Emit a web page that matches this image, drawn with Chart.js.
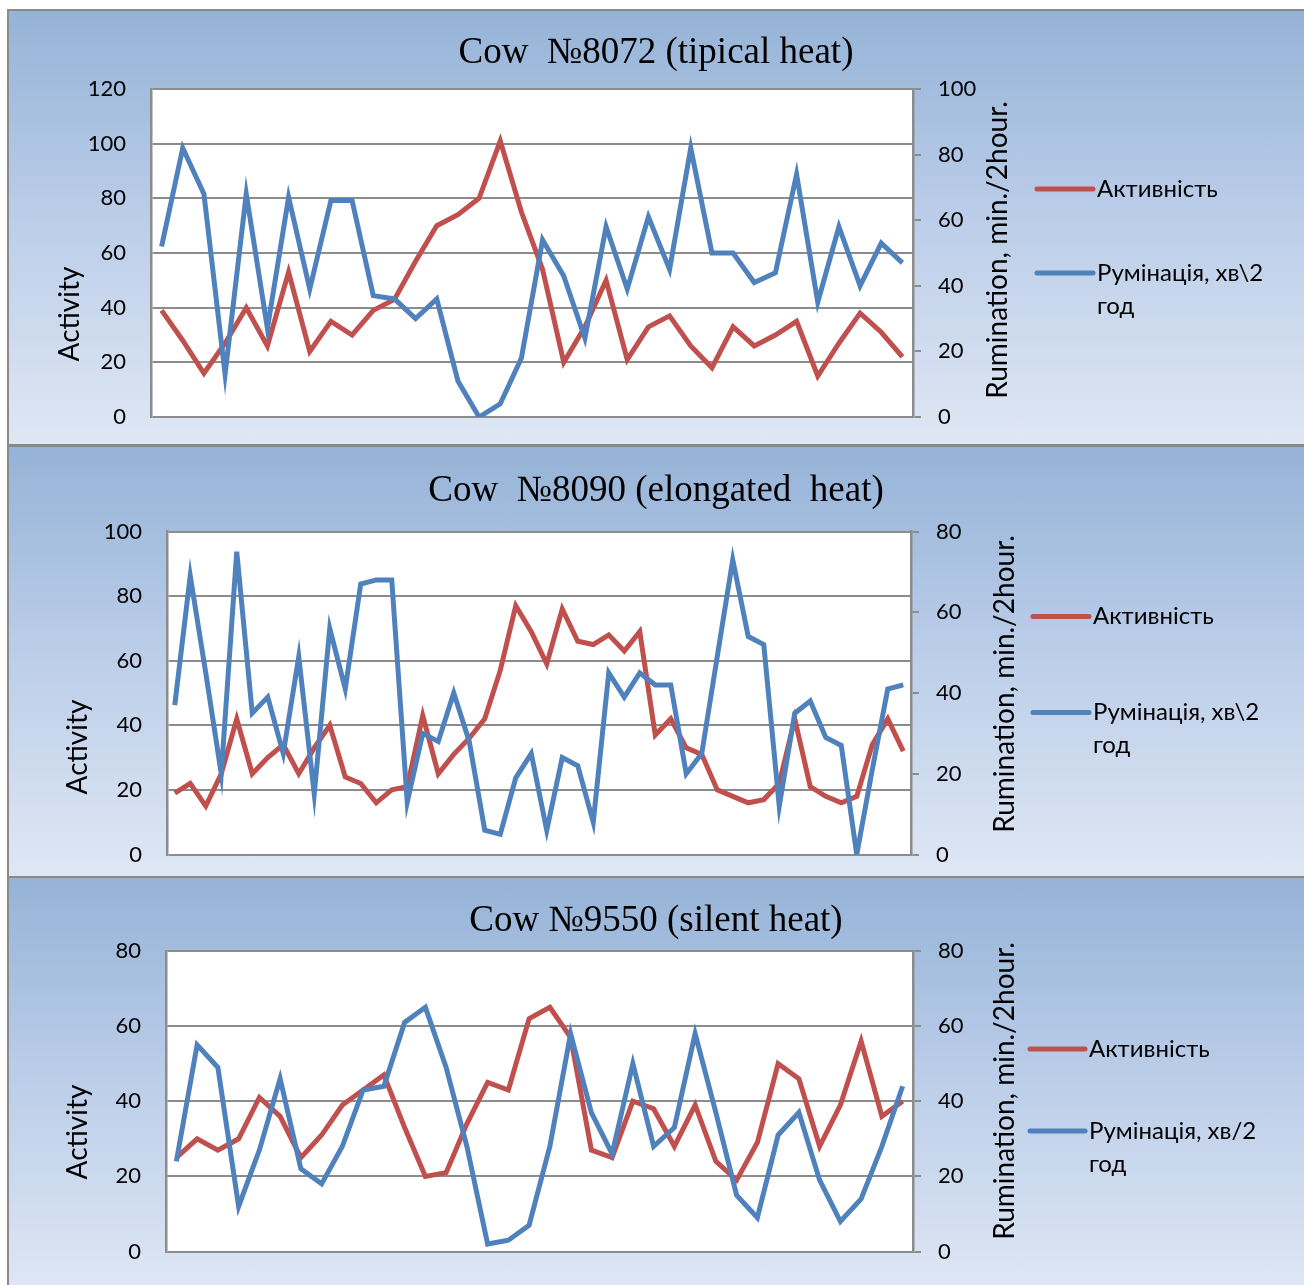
<!DOCTYPE html>
<html>
<head>
<meta charset="utf-8">
<script src="https://cdn.jsdelivr.net/npm/chart.js@4.4.1/dist/chart.umd.min.js"></script>
<style>
  html, body { margin: 0; padding: 0; background: #ffffff; overflow: hidden; }
  body { width: 1304px; height: 1285px; position: relative; }
  .panel {
    position: absolute; left: 7px; width: 1310px; box-sizing: border-box;
    border: 2px solid #8a8a8a;
    background: linear-gradient(to bottom, #95b3d7 0%, #b9cce8 45%, #dfe7f4 100%);
  }
  canvas { position: absolute; left: 0; }
</style>
</head>
<body>
<div class="panel" style="top:9px;height:437px"></div>
<div class="panel" style="top:445px;height:433px"></div>
<div class="panel" style="top:876px;height:420px"></div>
<canvas id="chart1" width="1304" height="437" style="top:9px"></canvas>
<canvas id="chart2" width="1304" height="431" style="top:446px"></canvas>
<canvas id="chart3" width="1304" height="408" style="top:877px"></canvas>
<script>
// Time points (every 2 hours)
const labels36 = ['1','2','3','4','5','6','7','8','9','10','11','12','13','14','15','16','17','18',
  '19','20','21','22','23','24','25','26','27','28','29','30','31','32','33','34','35','36'];
const labels48 = ['1','2','3','4','5','6','7','8','9','10','11','12','13','14','15','16','17','18',
  '19','20','21','22','23','24','25','26','27','28','29','30','31','32','33','34','35','36',
  '37','38','39','40','41','42','43','44','45','46','47','48'];

// Cow 8072
const activity8072 = [39, 28, 16, 27, 40, 26, 53, 24, 35, 30, 39, 43, 57, 70, 74, 80, 101, 75,
  54, 20, 33, 50, 21, 33, 37, 26, 18, 33, 26, 30, 35, 15, 27, 38, 31, 22];
const rumination8072 = [52, 82, 68, 13, 68, 27, 67, 39, 66, 66, 37, 36, 30, 36, 11, 0, 4, 18,
  54, 43, 24, 58, 39, 61, 45, 82, 50, 50, 41, 44, 74, 35, 58, 40, 53, 47];

// Cow 8090
const activity8090 = [19, 22, 15, 25, 42, 25, 30, 34, 25, 33, 40, 24, 22, 16, 20, 21, 43, 25,
  31, 36, 42, 57, 77, 69, 59, 76, 66, 65, 68, 63, 69, 37, 42, 33, 31, 20, 18, 16, 17, 22,
  42, 21, 18, 16, 18, 34, 42, 32];
const rumination8090 = [37, 69, 45, 20, 75, 35, 39, 25, 49, 15, 56, 41, 67, 68, 68, 13, 30, 28,
  40, 28, 6, 5, 19, 25, 6, 24, 22, 8, 45, 39, 45, 42, 42, 20, 25, 49, 73, 54, 52, 12,
  35, 38, 29, 27, 0, 21, 41, 42];

// Cow 9550
const activity9550 = [25, 30, 27, 30, 41, 36, 25, 31, 39, 43, 47, 33, 20, 21, 34, 45, 43, 62,
  65, 57, 27, 25, 40, 38, 28, 39, 24, 19, 29, 50, 46, 28, 39, 56, 36, 40];
const rumination9550 = [24, 55, 49, 12, 27, 46, 22, 18, 28, 43, 44, 61, 65, 49, 28, 2, 3, 7,
  28, 58, 37, 26, 50, 28, 33, 58, 37, 15, 9, 31, 37, 19, 8, 14, 28, 44];

const SANS = 'Lato, "Noto Sans", "DejaVu Sans", sans-serif';
const GRID = '#8c8c8c';
const RED = '#c0504d';
const BLUE = '#4f81bd';

Chart.defaults.font.family = SANS;
Chart.defaults.color = '#000';

// white plot area, rotated axis titles and the side legend
const panelDecor = {
  id: 'panelDecor',
  beforeDraw(chart) {
    const { ctx, chartArea: a } = chart;
    ctx.save();
    ctx.fillStyle = '#ffffff';
    ctx.fillRect(a.left, a.top, a.right - a.left, a.bottom - a.top);
    ctx.restore();
  },
  afterDraw(chart, args, opts) {
    const ctx = chart.ctx;
    ctx.save();
    ctx.fillStyle = '#000';
    ctx.textAlign = 'center';
    ctx.textBaseline = 'middle';
    ctx.font = '28px ' + SANS;
    [['y', opts.yTitle], ['y2', opts.y2Title]].forEach(([id, pos]) => {
      ctx.save();
      ctx.translate(pos[0], pos[1]);
      ctx.rotate(-Math.PI / 2);
      ctx.fillText(chart.options.scales[id].title.text, 0, 0);
      ctx.restore();
    });

    ctx.font = '24px ' + SANS;
    ctx.textAlign = 'left';
    ctx.lineCap = 'round';
    chart.data.datasets.forEach((ds, i) => {
      const y = opts.legend.y[i];
      ctx.strokeStyle = ds.borderColor;
      ctx.lineWidth = 5;
      ctx.beginPath();
      ctx.moveTo(opts.legend.x0, y);
      ctx.lineTo(opts.legend.x1, y);
      ctx.stroke();
      ds.label.split('\n').forEach((line, k) => {
        ctx.fillText(line, opts.legend.tx, y + k * 33);
      });
    });
    ctx.restore();
  }
};

// the scales must not push the plot area away from the panel edges
function fixScale(s, w) {
  s.width = w;
  s.paddingTop = 0;
  s.paddingBottom = 0;
}

function makeChart(id, p) {
  return new Chart(document.getElementById(id), {
    type: 'line',
    data: {
      labels: p.labels,
      datasets: [
        {
          label: 'Активність',
          data: p.activity,
          yAxisID: 'y',
          borderColor: RED,
          borderWidth: 5,
          pointRadius: 0,
          tension: 0,
          order: 2
        },
        {
          label: p.rumLabel,
          data: p.rumination,
          yAxisID: 'y2',
          borderColor: BLUE,
          borderWidth: 5,
          pointRadius: 0,
          tension: 0,
          order: 1
        }
      ]
    },
    options: {
      responsive: false,
      animation: false,
      layout: { padding: { left: 8, right: 0, top: 0, bottom: p.padBottom } },
      plugins: {
        legend: { display: false },
        tooltip: { enabled: false },
        title: {
          display: true,
          text: p.title,
          color: '#000',
          font: { family: '"Liberation Serif", "Times New Roman", serif', size: 37, weight: 'normal' },
          padding: { top: p.titleTop, bottom: p.titleBottom }
        },
        panelDecor: p.decor
      },
      scales: {
        x: { type: 'category', offset: true, display: false },
        y: {
          position: 'left',
          min: 0, max: p.yMax,
          ticks: { stepSize: 20, padding: 25, font: { size: 22 }, color: '#000' },
          grid: { color: GRID, lineWidth: 2, drawTicks: false },
          border: { color: GRID, width: 2.5 },
          title: { display: false, text: 'Activity' },
          afterFit: (s) => fixScale(s, p.yWidth)
        },
        y2: {
          position: 'right',
          min: 0, max: p.y2Max,
          ticks: { stepSize: 20, padding: 17, font: { size: 22 }, color: '#000' },
          grid: { drawOnChartArea: false, color: GRID, lineWidth: 2, tickLength: 8 },
          border: { color: GRID, width: 2.5 },
          title: { display: false, text: 'Rumination, min./2hour.' },
          afterFit: (s) => fixScale(s, p.y2Width)
        }
      }
    },
    plugins: [panelDecor]
  });
}

makeChart('chart1', {
  labels: labels36, activity: activity8072, rumination: rumination8072,
  rumLabel: 'Румінація, хв\\2\nгод',
  title: 'Cow  №8072 (tipical heat)',
  yMax: 120, y2Max: 100, yWidth: 143, y2Width: 391,
  padBottom: 29, titleTop: 21.8, titleBottom: 13.8,
  decor: { yTitle: [70, 305], y2Title: [998, 241], legend: { x0: 1037, x1: 1093, tx: 1097, y: [180, 264] } }
});

makeChart('chart2', {
  labels: labels48, activity: activity8090, rumination: rumination8090,
  rumLabel: 'Румінація, хв\\2\nгод',
  title: 'Cow  №8090 (elongated  heat)',
  yMax: 100, y2Max: 80, yWidth: 159, y2Width: 393,
  padBottom: 22.5, titleTop: 22.8, titleBottom: 18.3,
  decor: { yTitle: [78, 301], y2Title: [1005, 238], legend: { x0: 1033, x1: 1089, tx: 1093, y: [170.5, 266.5] } }
});

makeChart('chart3', {
  labels: labels36, activity: activity9550, rumination: rumination9550,
  rumLabel: 'Румінація, хв/2\nгод',
  title: 'Cow №9550 (silent heat)',
  yMax: 80, y2Max: 80, yWidth: 158, y2Width: 391,
  padBottom: 33.5, titleTop: 21.8, titleBottom: 7.8,
  decor: { yTitle: [78, 255], y2Title: [1005, 214], legend: { x0: 1030, x1: 1085, tx: 1089, y: [172, 254] } }
});
</script>
</body>
</html>
